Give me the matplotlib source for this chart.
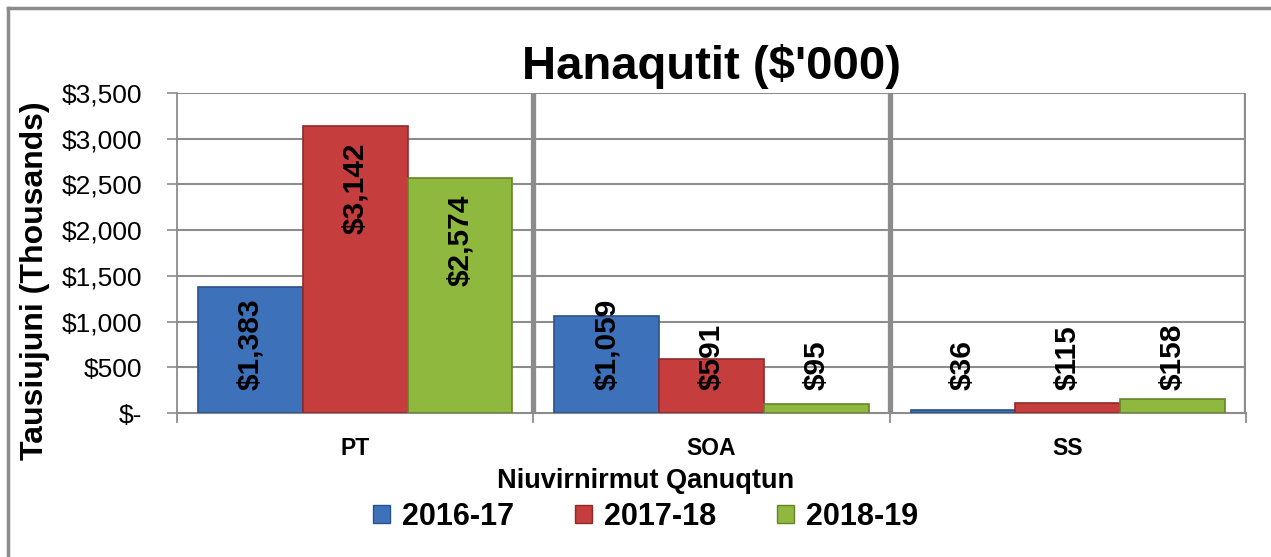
import matplotlib.pyplot as plt
import numpy as np
from matplotlib.patches import Patch
from matplotlib.lines import Line2D

plt.rcParams['font.family'] = ['Liberation Sans', 'DejaVu Sans']

# data
categories = ['PT', 'SOA', 'SS']
years = ['2016-17', '2017-18', '2018-19']
v_2016 = [1383, 1059, 36]
v_2017 = [3142, 591, 115]
v_2018 = [2574, 95, 158]
yticks = [0, 500, 1000, 1500, 2000, 2500, 3000, 3500]
yticklabels = ['$-', '$500', '$1,000', '$1,500', '$2,000', '$2,500', '$3,000', '$3,500']

colors = ['#3d72bb', '#c53d3c', '#8fb83f']
edges = ['#2a5287', '#8e2a29', '#66832a']
grey = '#8c8c8c'

fig = plt.figure(figsize=(12.71, 5.57), dpi=100)
ax = fig.add_axes([0.1393, 0.2585, 0.841, 0.5745])

x = np.arange(len(categories))
w = 0.294
series = [v_2016, v_2017, v_2018]
for i, vals in enumerate(series):
    xs = x + (i - 1) * w
    ax.bar(xs, vals, width=w, color=colors[i], edgecolor=edges[i],
           linewidth=1.2, zorder=3)
    for xi, v in zip(xs, vals):
        lab = '${:,}'.format(v)
        if v > 2000:
            ax.text(xi, v - 180, lab, rotation=90, ha='center', va='top',
                    fontsize=21.5, fontweight='bold', zorder=4)
        else:
            ax.text(xi, 250, lab, rotation=90, ha='center', va='bottom',
                    fontsize=21.5, fontweight='bold', zorder=4)

ax.set_xlim(-0.5, 2.5)
ax.set_ylim(0, 3500)
ax.set_yticks(yticks)
ax.set_yticklabels(yticklabels, fontsize=19)
ax.set_xticks(x)
ax.set_xticklabels(categories, fontsize=16.5, fontweight='bold')
ax.tick_params(axis='x', length=0, pad=17)
ax.tick_params(axis='y', length=7, color=grey, width=1.2, pad=18)

# grid
for yv in yticks[1:]:
    ax.axhline(yv, color=grey, lw=1.5, zorder=1)
# category separators
for xb in [0.5, 1.5, 2.5]:
    ax.axvline(xb, color=grey, lw=3.8, zorder=2)
# tick marks below axis
for xb in [-0.5, 0.5, 1.5, 2.5]:
    ax.plot([xb, xb], [0, -95], color=grey, lw=1.3, clip_on=False, zorder=2)

for s in ['top', 'right']:
    ax.spines[s].set_visible(False)
ax.spines['left'].set_color(grey)
ax.spines['left'].set_linewidth(1.3)
ax.spines['bottom'].set_color(grey)
ax.spines['bottom'].set_linewidth(1.5)

ax.set_ylabel('Tausiujuni (Thousands)', fontsize=23, fontweight='bold', va='center')
ax.yaxis.set_label_coords(-0.133, 0.415)
ax.set_xlabel('Niuvirnirmut Qanuqtun', fontsize=19.5, fontweight='bold', va='center')
ax.xaxis.set_label_coords(0.438, -0.2125)
ax.set_title("Hanaqutit ($'000)", fontsize=34, fontweight='bold', pad=10)

handles = [Patch(facecolor=c, edgecolor=e) for c, e in zip(colors, edges)]
leg = fig.legend(handles, years, loc='center', bbox_to_anchor=(0.508, 0.072), ncol=3,
                 frameon=False, prop={'size': 22, 'weight': 'bold'},
                 handlelength=0.55, handleheight=0.55, handletextpad=0.4,
                 columnspacing=2.0)

# outer frame
fig.add_artist(Line2D([8/1271, 8/1271], [0, 1 - 8/557], transform=fig.transFigure,
                      color=grey, lw=2.5))
fig.add_artist(Line2D([8/1271, 1], [1 - 8/557, 1 - 8/557], transform=fig.transFigure,
                      color=grey, lw=2.5))

fig.savefig('out.png', dpi=100)
